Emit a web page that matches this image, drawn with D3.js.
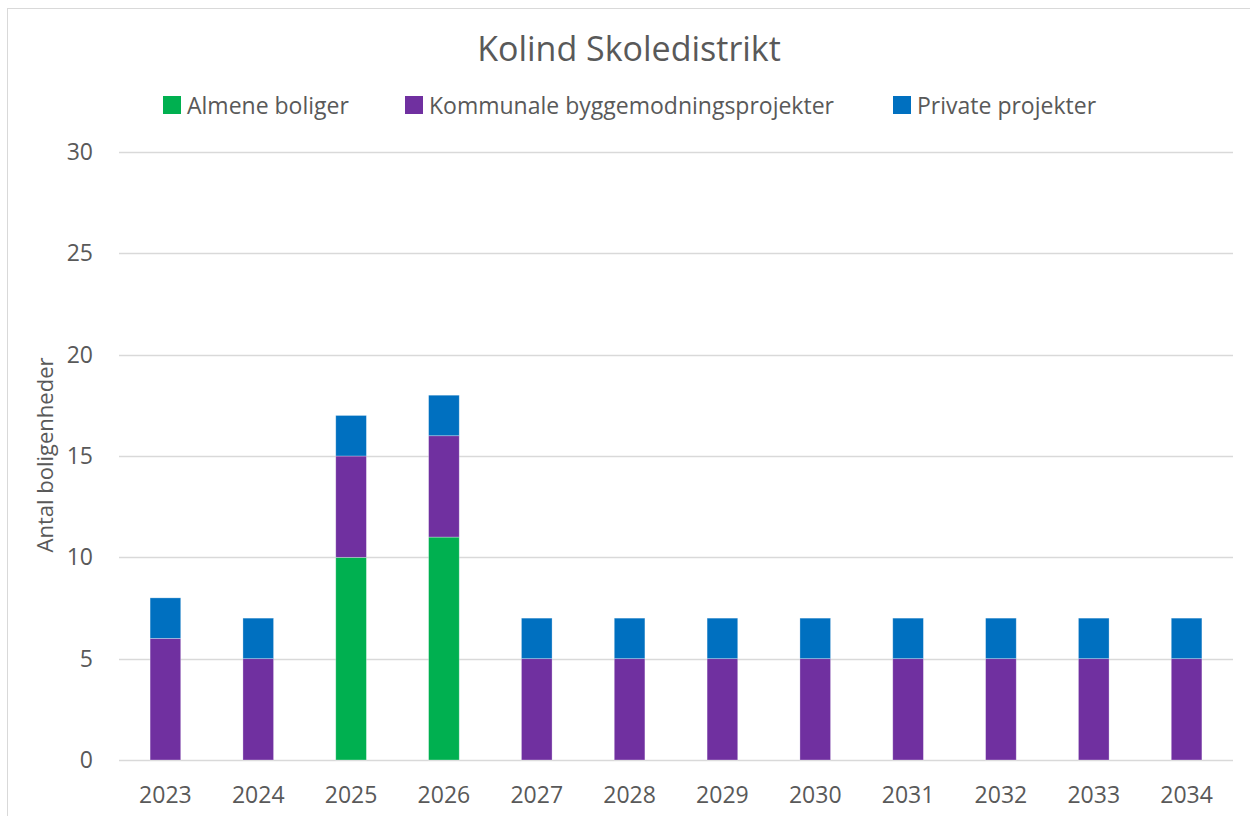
<!DOCTYPE html>
<html>
<head>
<meta charset="utf-8">
<script src="https://cdn.jsdelivr.net/npm/d3@7"></script>
<style>
  body { margin: 0; background: #fff; }
  text { font-family: "Open Sans", "Noto Sans", sans-serif; fill: #595959; }
</style>
</head>
<body>
<div id="chart"></div>
<script>
// Chart data
const years = ["2023", "2024", "2025", "2026", "2027", "2028", "2029", "2030", "2031", "2032", "2033", "2034"];
const seriesNames = ["Almene boliger", "Kommunale byggemodningsprojekter", "Private projekter"];
const almene = [0, 0, 10, 11, 0, 0, 0, 0, 0, 0, 0, 0];
const kommunale = [6, 5, 5, 5, 5, 5, 5, 5, 5, 5, 5, 5];
const private_ = [2, 2, 2, 2, 2, 2, 2, 2, 2, 2, 2, 2];
const yTicks = [0, 5, 10, 15, 20, 25, 30];
const colors = ["#00B050", "#7030A0", "#0070C0"];

const width = 1250, height = 816;
const margin = { top: 152, right: 17, bottom: 56, left: 119 };

const svg = d3.select("#chart")
  .append("svg")
  .attr("width", width)
  .attr("height", height);

// Outer chart border
svg.append("rect")
  .attr("x", 7.5).attr("y", 8.5)
  .attr("width", width).attr("height", height)
  .attr("fill", "none")
  .attr("stroke", "#d9d9d9");

const x = d3.scaleBand()
  .domain(years)
  .range([margin.left, width - margin.right])
  .paddingInner(0.67)
  .paddingOuter(0.335);

const y = d3.scaleLinear()
  .domain([0, 30])
  .range([height - margin.bottom, margin.top]);

// Gridlines
svg.append("g")
  .selectAll("line")
  .data(yTicks)
  .enter()
  .append("line")
  .attr("x1", margin.left)
  .attr("x2", width - margin.right)
  .attr("y1", d => Math.round(y(d)) + 0.5)
  .attr("y2", d => Math.round(y(d)) + 0.5)
  .attr("stroke", "#d9d9d9")
  .attr("stroke-width", 1.5);

// Stack the series
const rows = years.map((yr, i) => ({ year: yr, s0: almene[i], s1: kommunale[i], s2: private_[i] }));
const stacked = d3.stack().keys(["s0", "s1", "s2"])(rows);

svg.append("g")
  .selectAll("g")
  .data(stacked)
  .enter()
  .append("g")
  .attr("fill", (d, i) => colors[i])
  .selectAll("rect")
  .data(d => d.filter(p => p[1] > p[0]))
  .enter()
  .append("rect")
  .attr("x", d => x(d.data.year))
  .attr("width", x.bandwidth())
  .attr("y", d => y(d[1]))
  .attr("height", d => y(d[0]) - y(d[1]))
  .attr("stroke", "#ffffff")
  .attr("stroke-opacity", 0.4)
  .attr("stroke-width", 0.75);

// Y axis labels
const yAxis = d3.axisLeft(y).tickValues(yTicks).tickSize(0).tickPadding(26);
svg.append("g")
  .attr("transform", `translate(${margin.left},0)`)
  .call(yAxis)
  .call(g => g.select(".domain").remove())
  .selectAll("text")
  .style("font-size", "23px")
  .attr("fill", "#595959");

// X axis labels
const xAxis = d3.axisBottom(x).tickSize(0).tickPadding(27);
svg.append("g")
  .attr("transform", `translate(0,${height - margin.bottom})`)
  .call(xAxis)
  .call(g => g.select(".domain").remove())
  .selectAll("text")
  .style("font-size", "23px")
  .attr("fill", "#595959");

// Y axis title
svg.append("text")
  .attr("transform", "translate(53,455) rotate(-90)")
  .attr("text-anchor", "middle")
  .style("font-size", "22px")
  .text("Antal boligenheder");

// Title
svg.append("text")
  .attr("x", 629)
  .attr("y", 61)
  .attr("text-anchor", "middle")
  .style("font-size", "34px")
  .text("Kolind Skoledistrikt");

// Legend
const legendX = [163, 405, 893];
const legend = svg.append("g");
const item = legend.selectAll("g")
  .data(seriesNames)
  .enter()
  .append("g")
  .attr("transform", (d, i) => `translate(${legendX[i]},105)`);

item.append("rect")
  .attr("x", 0).attr("y", -9)
  .attr("width", 18).attr("height", 18)
  .attr("fill", (d, i) => colors[i]);

item.append("text")
  .attr("x", 24)
  .attr("y", 9)
  .style("font-size", "23px")
  .text(d => d);
</script>
</body>
</html>
